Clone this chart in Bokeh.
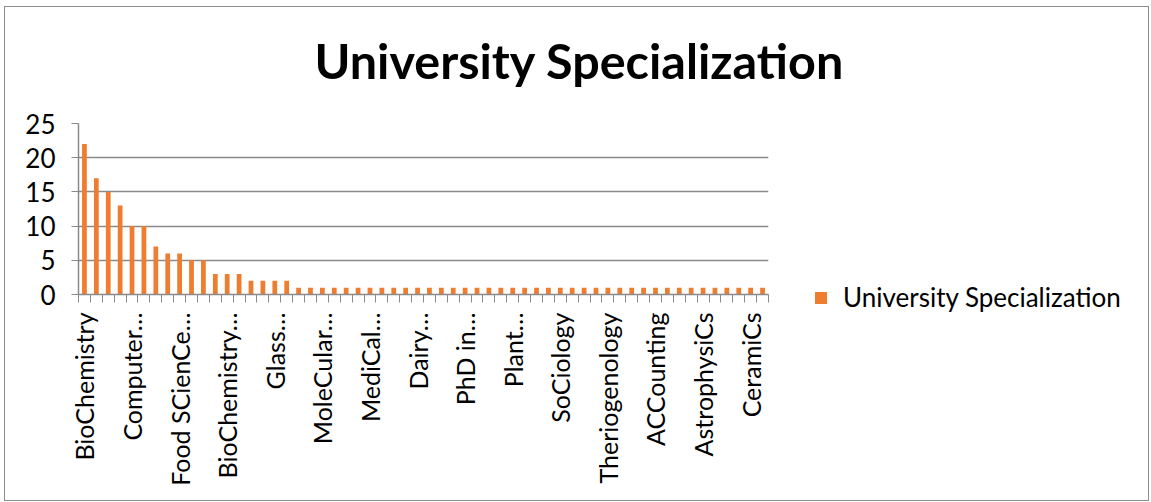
from bokeh.plotting import figure
from bokeh.layouts import column, row
from bokeh.models import (Legend, LegendItem, FixedTicker, Range1d,
                          ColumnDataSource, Label)
from bokeh.embed import file_html
from bokeh.resources import INLINE
import math

# ---- data ----
series_name = "University Specialization"
chart_title = "University Specialization"
values = [22, 17, 15, 13, 10, 10, 7, 6, 6, 5, 5, 3, 3, 3, 2, 2, 2, 2,
          1, 1, 1, 1, 1, 1, 1, 1, 1, 1, 1, 1, 1, 1, 1, 1, 1, 1, 1, 1, 1, 1,
          1, 1, 1, 1, 1, 1, 1, 1, 1, 1, 1, 1, 1, 1, 1, 1, 1, 1]
tick_labels = ["BioChemistry", "Computer…", "Food SCienCe…", "BioChemistry…",
               "Glass…", "MoleCular…", "MediCal…", "Dairy…", "PhD in…",
               "Plant…", "SoCiology", "Theriogenology", "ACCounting",
               "AstrophysiCs", "CeramiCs"]
label_step = 4
y_ticks = [0, 5, 10, 15, 20, 25]

n = len(values)
xs = list(range(n))
src = ColumnDataSource(dict(x=xs, top=values))

FONT = "Lato"
GRID = "#8a8a8a"
ORANGE = "#EE7D30"
FS = "26px"

TOTAL_W = 1143
TITLE_H = 100
BODY_H = 393
MAIN_W = 803


def bare(fig):
    fig.axis.visible = False
    fig.grid.visible = False
    fig.outline_line_color = None
    fig.min_border = 0
    fig.frame_align = False
    return fig


# ---- title strip ----
tf = bare(figure(width=TOTAL_W, height=TITLE_H, output_backend="svg",
                 toolbar_location=None, x_range=Range1d(0, 1),
                 y_range=Range1d(0, 1)))
tf.add_layout(Label(x=574, y=48, x_units="screen", y_units="screen",
                    text=chart_title, text_font=FONT, text_font_style="bold",
                    text_font_size="48.5px", text_align="center",
                    text_baseline="middle", text_color="black"))

# ---- main chart ----
p = figure(width=MAIN_W, height=BODY_H, output_backend="svg",
           toolbar_location=None,
           x_range=Range1d(-0.5, n - 0.5), y_range=Range1d(0, 25),
           min_border_left=73, min_border_right=MAIN_W - 763,
           min_border_top=16, min_border_bottom=206)
p.outline_line_color = None
p.frame_align = False

bars = p.vbar(x="x", top="top", width=0.4, source=src, fill_color=ORANGE,
              line_color=None)

major = [i for i in range(0, n, label_step)]
minor = [i - 0.5 for i in range(n + 1)]
p.xaxis.ticker = FixedTicker(ticks=major, minor_ticks=minor)
p.xaxis.major_label_overrides = {i: tick_labels[k] for k, i in enumerate(major)}
p.xaxis.major_label_orientation = math.pi / 2
p.xaxis.major_tick_out = 0
p.xaxis.major_tick_in = 0
p.xaxis.minor_tick_out = 8
p.xaxis.minor_tick_in = 0
p.xaxis.minor_tick_line_color = GRID
p.xaxis.axis_line_color = GRID
p.xaxis.axis_line_width = 1.5
p.xaxis.major_label_standoff = 10
p.xaxis.major_label_text_font = FONT
p.xaxis.major_label_text_font_size = "25px"
p.xaxis.major_label_text_color = "black"
p.xgrid.grid_line_color = None

p.yaxis.ticker = FixedTicker(ticks=y_ticks)
p.yaxis.minor_tick_line_color = None
p.yaxis.major_tick_out = 7
p.yaxis.major_tick_in = 0
p.yaxis.major_tick_line_color = GRID
p.yaxis.axis_line_color = GRID
p.yaxis.axis_line_width = 1.5
p.yaxis.major_label_standoff = 16
p.yaxis.major_label_text_font = FONT
p.yaxis.major_label_text_font_size = FS
p.yaxis.major_label_text_color = "black"
p.ygrid.grid_line_color = GRID
p.ygrid.grid_line_width = 1.5

# ---- legend strip ----
lf = bare(figure(width=TOTAL_W - MAIN_W, height=BODY_H, output_backend="svg",
                 toolbar_location=None, x_range=Range1d(0, 1),
                 y_range=Range1d(0, 1)))
# legend swatch proxy: a zero-size quad, so only the legend swatch shows
proxy = lf.quad(left=[0.5], right=[0.5], bottom=[0], top=[0],
                fill_color=ORANGE, line_color=None)
legend = Legend(items=[LegendItem(label=series_name, renderers=[proxy])],
                location=(5, 187), margin=0, padding=0, spacing=0,
                glyph_width=15, glyph_height=15, label_standoff=15,
                label_text_font=FONT, label_text_font_size=FS,
                label_text_color="black", border_line_color=None,
                background_fill_alpha=0)
lf.add_layout(legend, "center")

layout = column(tf, row(p, lf, spacing=0), spacing=0)
layout.margin = (6, 0, 0, 4)
layout.styles = {"border": "1px solid #8c8c8c"}

open("out.html", "w").write(file_html(layout, INLINE))
